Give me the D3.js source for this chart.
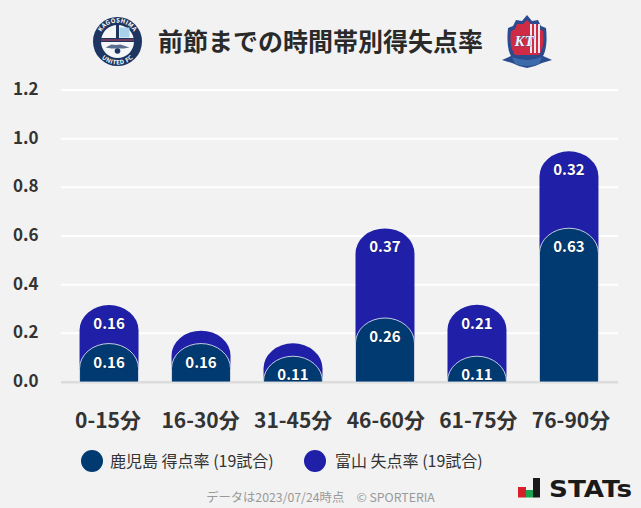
<!DOCTYPE html>
<html><head><meta charset="utf-8">
<script src="https://cdnjs.cloudflare.com/ajax/libs/d3/7.8.5/d3.min.js"></script>
<style>html,body{margin:0;padding:0;background:#f2f2f2}svg{display:block}
text{font-family:"Noto Sans CJK JP","Noto Sans",sans-serif}</style></head><body>
<svg id="c" width="641" height="508"></svg>
<script>
const categories=["0-15分","16-30分","31-45分","46-60分","61-75分","76-90分"];
const goalsFor=[0.158,0.158,0.106,0.263,0.106,0.632];
const goalsAgainst=[0.158,0.053,0.053,0.368,0.211,0.316];
const yTicks=[0,0.2,0.4,0.6,0.8,1.0,1.2];
const legendLabels=["鹿児島 得点率 (19試合)","富山 失点率 (19試合)"];
const colors=["#003a70","#1f1fa8"];
const titleText="前節までの時間帯別得失点率";
const footerText="データは2023/07/24時点　© SPORTERIA";

const svg=d3.select("#c");
svg.append("rect").attr("width",641).attr("height",508).attr("fill","#f2f2f2");
const y=d3.scaleLinear().domain([0,1.2]).range([382,90]);
const x=d3.scaleBand().domain(categories).range([63,615]).paddingInner(0.359).paddingOuter(0.18);
const xLabel=d3.scalePoint().domain(categories).range([108,571]);
const bw=x.bandwidth();

// grid
svg.append("g").selectAll("line").data(yTicks.slice(1)).join("line")
 .attr("x1",61).attr("x2",618).attr("y1",d=>y(d)).attr("y2",d=>y(d))
 .attr("stroke","#fff").attr("stroke-width",2);
svg.append("line").attr("x1",61).attr("x2",618).attr("y1",y(0)).attr("y2",y(0)).attr("stroke","#dcdcdc").attr("stroke-width",2);

// y labels
svg.append("g").selectAll("text").data(yTicks).join("text")
 .attr("x",38.5).attr("y",d=>y(d)+5).attr("text-anchor","end")
 .attr("font-size",17).attr("font-weight",700).attr("fill","#333").text(d=>d.toFixed(1));

// x labels
svg.append("g").selectAll("text").data(categories).join("text")
 .attr("x",d=>xLabel(d)).attr("y",428).attr("text-anchor","middle")
 .attr("font-size",21).attr("font-weight",700).attr("fill","#333").text(d=>d);

function barPath(cx,top,base){
  const rx=bw/2, ry=Math.min(25,base-top);
  return `M${cx-rx},${base}V${top+ry}A${rx},${ry} 0 0 1 ${cx+rx},${top+ry}V${base}Z`;
}
const rows=categories.map((c,i)=>({c,f:goalsFor[i],a:goalsAgainst[i]}));
svg.append("g").selectAll("path").data(rows).join("path")
 .attr("d",d=>barPath(x(d.c)+bw/2,y(d.f+d.a),y(0))).attr("fill",colors[1]);
svg.append("g").selectAll("path").data(rows).join("path")
 .attr("d",d=>barPath(x(d.c)+bw/2,y(d.f),y(0))).attr("fill",colors[0])
 .attr("stroke","#fff").attr("stroke-opacity",0.75).attr("stroke-width",1);
svg.append("line").attr("x1",61).attr("x2",618).attr("y1",y(0)+1).attr("y2",y(0)+1).attr("stroke","#dcdcdc").attr("stroke-width",1);

// value labels
const lab=svg.append("g").attr("font-size",15).attr("font-weight",700).attr("fill","#fff").attr("text-anchor","middle")
 .attr("stroke","#000").attr("stroke-opacity",0.3).attr("stroke-width",1).style("paint-order","stroke");
lab.selectAll("text.f").data(rows).join("text").attr("class","f")
 .attr("x",d=>x(d.c)+bw/2).attr("y",d=>Math.min(y(d.f)+24,y(0)-1.5)).text(d=>d.f.toFixed(2));
lab.selectAll("text.a").data(rows.filter(d=>d.a>0.1)).join("text").attr("class","a")
 .attr("x",d=>x(d.c)+bw/2).attr("y",d=>y(d.f+d.a)+24).text(d=>d.a.toFixed(2));

// title
svg.append("text").attr("x",320.5).attr("y",51).attr("text-anchor","middle")
 .attr("font-size",25).attr("font-weight",700).attr("fill","#2a2a2a").text(titleText);

// legend
const lg=svg.append("g");
[[92,legendLabels[0],110],[315,legendLabels[1],335]].forEach((l,i)=>{
 lg.append("circle").attr("cx",l[0]).attr("cy",461).attr("r",11).attr("fill",colors[i]);
 lg.append("text").attr("x",l[2]).attr("y",466.5).attr("font-size",16).attr("fill","#333").text(l[1]);
});

// footer
svg.append("text").attr("x",320.5).attr("y",502).attr("text-anchor","middle").attr("font-size",12.3).attr("fill","#999").text(footerText);

// left crest
const a=svg.append("g").attr("transform","translate(117.5,41.5)");
a.append("circle").attr("r",24.5).attr("fill","#1d3560");
a.append("circle").attr("r",16.5).attr("fill","#f4f6f8");
a.append("rect").attr("x",2).attr("y",-14).attr("width",10).attr("height",10).attr("fill","#a9d2e8");
a.append("rect").attr("x",-16.5).attr("y",-3.5).attr("width",33).attr("height",4).attr("fill","#1d3560");
a.append("rect").attr("x",-1.5).attr("y",-16.5).attr("width",3).attr("height",17).attr("fill","#1d3560");
a.append("rect").attr("x",-16.5).attr("y",-2).attr("width",33).attr("height",1).attr("fill","#c8405a");
a.append("path").attr("d","M-12,6 L-6,3 L-2,3.5 L3,3 L12,6 L6,7 L-6,7Z").attr("fill","#5a6f90");
a.append("circle").attr("cy",9.5).attr("r",2.8).attr("fill","#1d3560");
a.append("path").attr("id","arcT").attr("d","M-19,0 A19,19 0 0 1 19,0").attr("fill","none");
a.append("path").attr("id","arcB").attr("d","M-23,0 A23,23 0 0 0 23,0").attr("fill","none");
a.append("text").attr("font-size",6).attr("font-weight",700).attr("fill","#fff").attr("letter-spacing",0.4).append("textPath").attr("href","#arcT").attr("startOffset","50%").attr("text-anchor","middle").text("KAGOSHIMA");
a.append("text").attr("font-size",6).attr("font-weight",700).attr("fill","#fff").attr("letter-spacing",0.4).append("textPath").attr("href","#arcB").attr("startOffset","50%").attr("text-anchor","middle").text("UNITED FC");

// right crest
const b=svg.append("g").attr("transform","translate(527,41)");
b.append("path").attr("d","M0,-26 L5,-20 L11,-21 L14,-15 L19,-13 C20,-4 20,8 16,15 L25,19 L15,22 L8,25 L0,27 L-8,25 L-15,22 L-25,19 L-16,15 C-20,8 -20,-4 -19,-13 L-14,-15 L-11,-21 L-5,-20Z").attr("fill","#2a4c8e");
b.append("path").attr("d","M0,-21 L4,-17 L10,-17 L12,-12 L16,-10 C17,-3 17,7 12,14 L-12,14 C-17,7 -17,-3 -16,-10 L-12,-12 L-10,-17 L-4,-17Z").attr("fill","#cf2b44");
b.selectAll("rect.s").data([3,7,11]).join("rect").attr("class","s").attr("x",d=>d).attr("y",-17).attr("width",2).attr("height",29).attr("fill","#f3e6ec");
b.append("text").attr("x",-3).attr("y",5).attr("text-anchor","middle").attr("font-size",15).attr("font-style","italic").attr("font-weight",700).attr("fill","#f4f4ff").attr("stroke","#2a4c8e").attr("stroke-width",0.6).style("paint-order","stroke").style("font-family","'Liberation Serif'").text("KT");
b.append("path").attr("d","M-15,16 Q0,22 15,16 L12,23 Q0,27 -12,23Z").attr("fill","#3d6aa8");

// STATS logo
const s=svg.append("g");
s.append("rect").attr("x",518).attr("y",487).attr("width",8).attr("height",10.5).attr("fill","#d6202a");
s.append("rect").attr("x",526).attr("y",490).attr("width",7).attr("height",7.5).attr("fill","#1aa551");
s.append("rect").attr("x",533).attr("y",478).attr("width",7).attr("height",19.5).attr("fill","#1a1a1a");
s.append("text").attr("x",549).attr("y",496.5).attr("font-size",23).attr("font-weight",700).attr("fill","#1a1a1a").attr("textLength",83).attr("lengthAdjust","spacingAndGlyphs").style("font-family","'DejaVu Sans'").text("STATs");
</script></body></html>
